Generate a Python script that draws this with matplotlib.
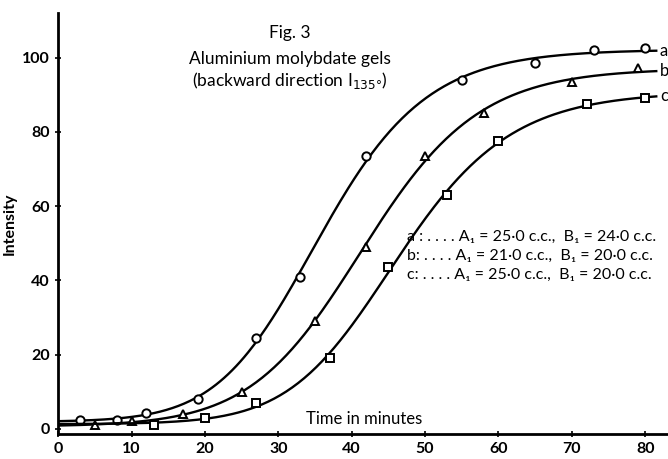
import numpy as np
import matplotlib
matplotlib.use('Agg')
import matplotlib.pyplot as plt

plt.rcParams['font.family'] = ['Lato', 'DejaVu Sans']

# readings from the figure (time in minutes, intensity)
t_a = [3, 8, 12, 19, 27, 33, 42, 55, 65, 73, 80]
i_a = [2.3, 2.5, 4.2, 8.0, 24.5, 41.0, 73.5, 94.0, 98.5, 102.0, 102.5]
t_b = [5, 10, 17, 25, 35, 42, 50, 58, 70, 79]
i_b = [1.0, 2.0, 4.0, 10.0, 29.0, 49.0, 73.5, 85.0, 93.5, 97.2]
t_c = [13, 20, 27, 37, 45, 53, 60, 72, 80]
i_c = [1.0, 3.0, 7.0, 19.0, 43.5, 63.0, 77.5, 87.5, 89.0]

labels = ['a', 'b', 'c']
markers = ['o', '^', 's']
legend_lines = [
    'a : . . . . A\u2081 = 25\u00b70 c.c.,  B\u2081 = 24\u00b70 c.c.',
    'b: . . . . A\u2081 = 21\u00b70 c.c.,  B\u2081 = 20\u00b70 c.c.',
    'c: . . . . A\u2081 = 25\u00b70 c.c.,  B\u2081 = 20\u00b70 c.c.',
]
xticks = [0, 10, 20, 30, 40, 50, 60, 70, 80]
yticks = [0, 20, 40, 60, 80, 100]


def richards_fit(x, y):
    # smooth S-curve through the readings: grid search on shape,
    # linear least squares for base level and height
    x = np.asarray(x, float)
    y = np.asarray(y, float)
    best = None
    for nu in [0.02, 0.05, 0.1, 0.15, 0.2, 0.3, 0.45, 0.6, 0.8, 1.0, 1.3]:
        for x0 in np.arange(15, 60, 0.25):
            for s in np.arange(2, 20, 0.1):
                g = (1.0 + nu * np.exp(-(x - x0) / s)) ** (-1.0 / nu)
                M = np.column_stack([np.ones_like(x), g])
                coef, *_ = np.linalg.lstsq(M, y, rcond=None)
                err = np.sum((M @ coef - y) ** 2)
                if best is None or err < best[0]:
                    best = (err, nu, x0, s, coef)
    _, nu, x0, s, coef = best
    return lambda xx: coef[0] + coef[1] * (1.0 + nu * np.exp(-(xx - x0) / s)) ** (-1.0 / nu)


fig = plt.figure(figsize=(6.68, 4.59), dpi=100)
ax = fig.add_axes([0.087, 0.0545, 0.913, 0.917])

xs = np.linspace(0, 81.5, 300)
for tt, ii, lab, m in zip([t_a, t_b, t_c], [i_a, i_b, i_c], labels, markers):
    f = richards_fit(tt, ii)
    ax.plot(xs, f(xs), color='black', lw=1.7)
    ax.plot(tt, ii, linestyle='none', marker=m, markersize=6,
            markerfacecolor='white', markeredgecolor='black', markeredgewidth=1.4)
    ax.text(82.0, f(81.5), lab, fontsize=12, va='center', ha='left')

ax.set_xlim(0, 83.1)
ax.set_ylim(-1.4, 112)
ax.set_xticks(xticks)
ax.set_yticks(yticks)
ax.tick_params(direction='inout', length=5, width=1.2, labelsize=11.5)
for lbl in ax.get_xticklabels() + ax.get_yticklabels():
    lbl.set_fontweight('bold')
ax.spines['top'].set_visible(False)
ax.spines['right'].set_visible(False)
ax.spines['left'].set_linewidth(2)
ax.spines['bottom'].set_linewidth(2)

ax.set_ylabel('Intensity', fontsize=11.5, fontweight='bold', labelpad=4)

ax.text(31.6, 106.7, 'Fig. 3', fontsize=12.5, ha='center', va='center')
ax.text(31.6, 99.5, 'Aluminium molybdate gels', fontsize=12.5, ha='center', va='center')
ax.text(31.6, 93.8, '(backward direction I$_{135\u00b0}$)', fontsize=12.5,
        ha='center', va='center')

for k, line in enumerate(legend_lines):
    ax.text(47.6, 51.8 - 5.2 * k, line, fontsize=11.5, ha='left', va='center')

ax.text(33.8, 2.6, 'Time in minutes', fontsize=12, ha='left', va='center')

fig.savefig('out.png', dpi=100)
